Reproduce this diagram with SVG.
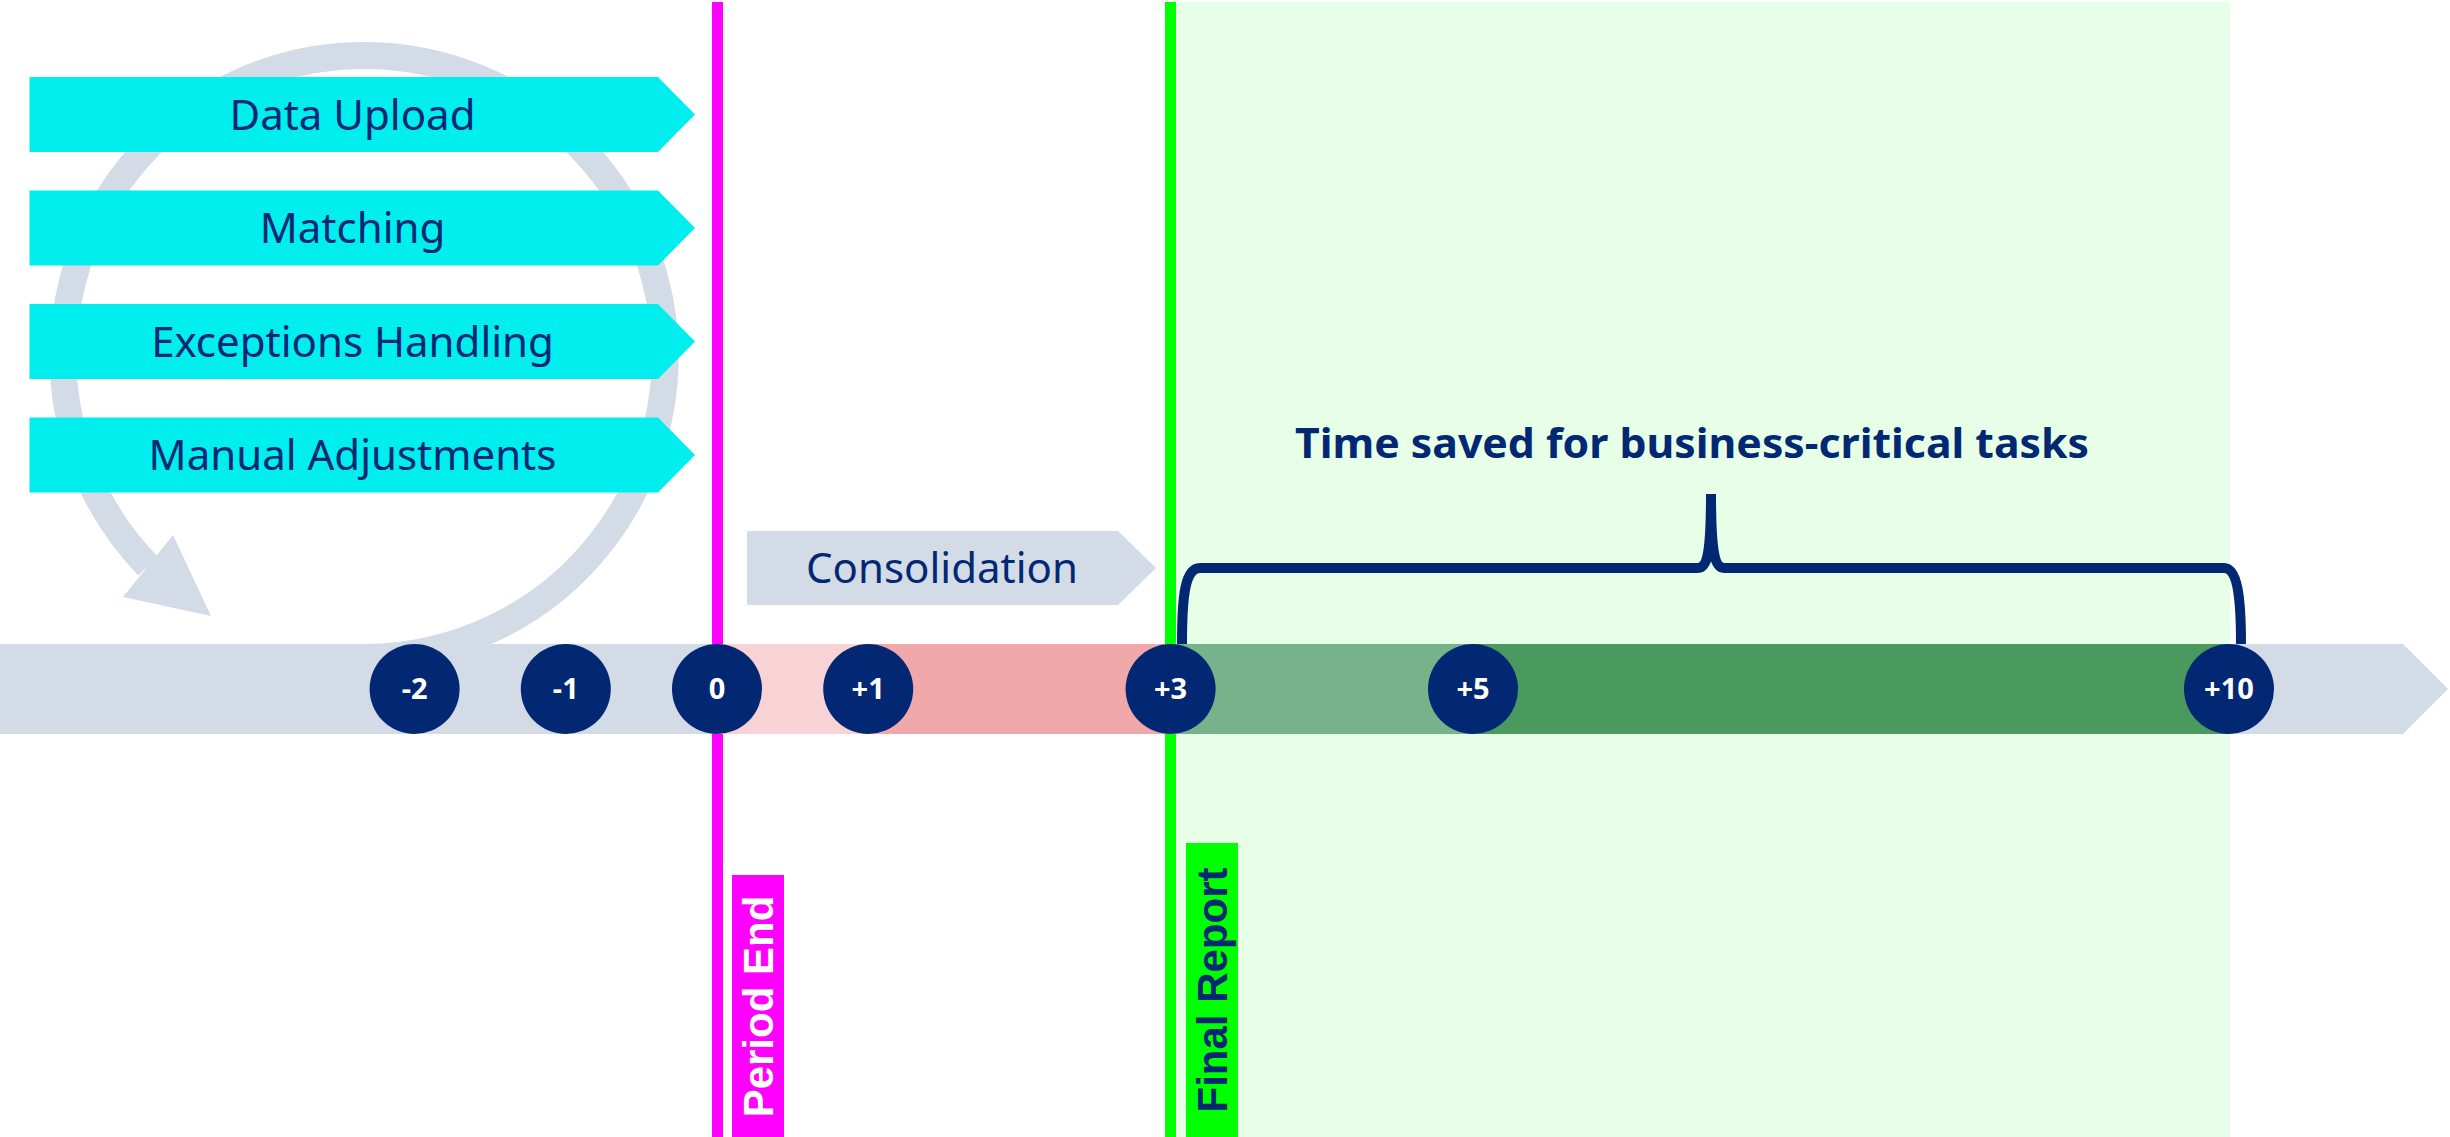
<svg xmlns="http://www.w3.org/2000/svg" width="2450" height="1137" viewBox="0 0 2450 1137">
  <style>
    .task { fill: #00EEEE; }
    .grey { fill: #D3DBE7; }
    .tasktxt { font-family: "Noto Sans", "Open Sans", sans-serif; font-size: 42px; fill: #022873; text-anchor: middle; }
    .dot { fill: #022873; }
    .dottxt { font-family: "Noto Sans", "Open Sans", sans-serif; font-size: 29px; font-weight: bold; fill: #FFFFFF; text-anchor: middle; }
    .vlabel { font-family: "Liberation Sans", Arial, sans-serif; font-size: 42px; font-weight: bold; text-anchor: middle; }
    .title { font-family: "Noto Sans", "Open Sans", sans-serif; font-size: 42px; font-weight: bold; fill: #022873; text-anchor: middle; }
  </style>
  <rect width="2450" height="1137" fill="#FFFFFF"/>

  <!-- light green saved-time region -->
  <rect id="saved-region" x="1176" y="2" width="1054" height="1135" fill="#E6FFE6"/>

  <!-- milestone lines -->
  <g id="period-end">
    <rect x="712" y="2" width="11" height="1135" fill="#FF00FF"/>
    <rect x="732" y="875" width="52" height="262" fill="#FF00FF"/>
    <text class="vlabel" fill="#FFFFFF" transform="translate(773,1006.5) rotate(-90)">Period End</text>
  </g>
  <g id="final-report">
    <rect x="1165" y="2" width="11" height="1135" fill="#00FF00"/>
    <rect x="1186" y="843" width="52" height="294" fill="#00FF00"/>
    <text class="vlabel" fill="#022873" transform="translate(1227,990) rotate(-90)">Final Report</text>
  </g>

  <!-- connectors: cycle arrow and brace -->
  <g id="connectors">
    <path d="M 365.5 657.5 A 301 301 0 1 0 148 566" fill="none" stroke="#D3DBE7" stroke-width="27"/>
    <polygon points="173,535 211,616 123,597" fill="#D3DBE7"/>
    <path d="M 1182 644 C 1182 596, 1185 568, 1200 568 L 1698 568 C 1708 568, 1711 550, 1711 494 C 1711 550, 1714 568, 1724 568 L 2224 568 C 2237 568, 2241 596, 2241 644" fill="none" stroke="#022873" stroke-width="10"/>
  </g>

  <!-- task chevrons -->
  <g id="task-data-upload">
    <polygon class="task" points="29.5,77 658,77 695,114.5 658,152 29.5,152"/>
    <text class="tasktxt" x="352.5" y="129.5">Data Upload</text>
  </g>
  <g id="task-matching">
    <polygon class="task" points="29.5,190.5 658,190.5 695,228 658,265.5 29.5,265.5"/>
    <text class="tasktxt" x="352.5" y="243">Matching</text>
  </g>
  <g id="task-exceptions">
    <polygon class="task" points="29.5,304 658,304 695,341.5 658,379 29.5,379"/>
    <text class="tasktxt" x="352.5" y="356.5">Exceptions Handling</text>
  </g>
  <g id="task-manual">
    <polygon class="task" points="29.5,417.5 658,417.5 695,455 658,492.5 29.5,492.5"/>
    <text class="tasktxt" x="352.5" y="470">Manual Adjustments</text>
  </g>

  <g id="task-consolidation">
    <polygon class="grey" points="747,531 1118,531 1156,568 1118,605 747,605"/>
    <text class="tasktxt" x="942" y="583">Consolidation</text>
  </g>

  <!-- title -->
  <g id="time-saved-label">
    <text class="title" x="1692" y="458" textLength="794" lengthAdjust="spacingAndGlyphs">Time saved for business-critical tasks</text>
  </g>

  <!-- timeline -->
  <g id="timeline">
    <polygon class="grey" points="0,644 2403,644 2448,689 2403,734 0,734"/>
    <rect x="717" y="644" width="151" height="90" fill="#F8D3D6"/>
    <rect x="868" y="644" width="302.6" height="90" fill="#F0A8AA"/>
    <rect x="1170.6" y="644" width="302.4" height="90" fill="#76B38A"/>
    <rect x="1473" y="644" width="756" height="90" fill="#4A9A5F"/>
  </g>

  <g id="day-m2"><circle class="dot" cx="414.6" cy="689" r="45"/><text class="dottxt" x="414.6" y="699">-2</text></g>
  <g id="day-m1"><circle class="dot" cx="565.8" cy="689" r="45"/><text class="dottxt" x="565.8" y="699">-1</text></g>
  <g id="day-0"><circle class="dot" cx="717" cy="689" r="45"/><text class="dottxt" x="717" y="699">0</text></g>
  <g id="day-p1"><circle class="dot" cx="868.2" cy="689" r="45"/><text class="dottxt" x="868.2" y="699">+1</text></g>
  <g id="day-p3"><circle class="dot" cx="1170.6" cy="689" r="45"/><text class="dottxt" x="1170.6" y="699">+3</text></g>
  <g id="day-p5"><circle class="dot" cx="1473" cy="689" r="45"/><text class="dottxt" x="1473" y="699">+5</text></g>
  <g id="day-p10"><circle class="dot" cx="2229" cy="689" r="45"/><text class="dottxt" x="2229" y="699">+10</text></g>
</svg>
